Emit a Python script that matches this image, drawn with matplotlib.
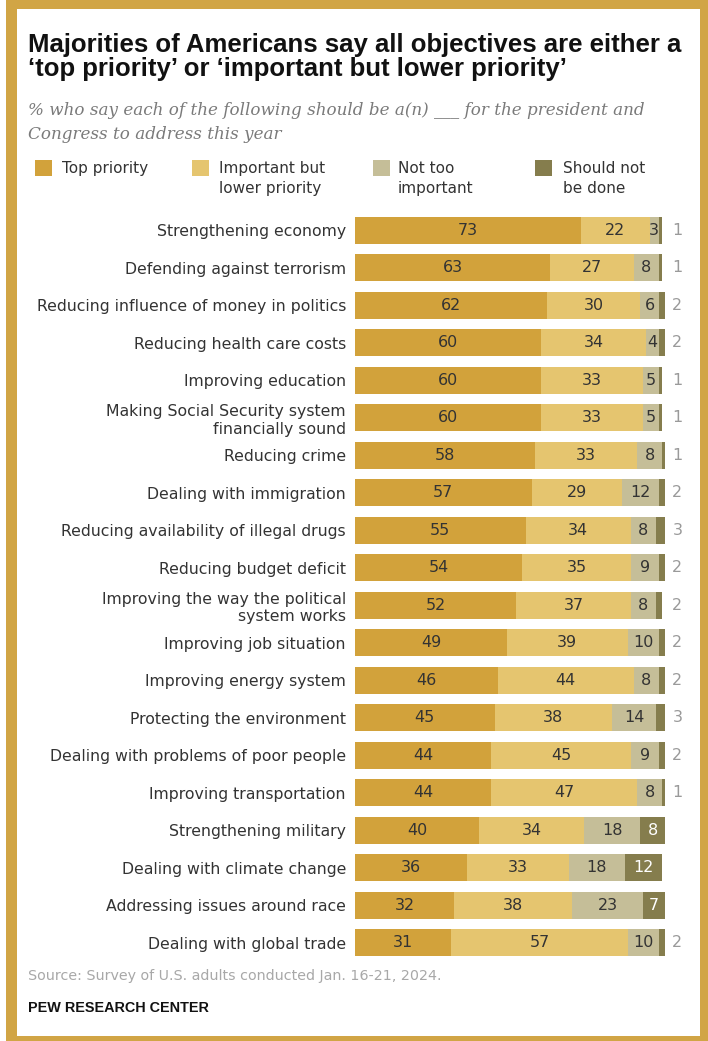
import matplotlib
matplotlib.use('Agg')
import matplotlib.pyplot as plt
from matplotlib.patches import Rectangle
import numpy as np

# data
categories = ['Strengthening economy', 'Defending against terrorism',
              'Reducing influence of money in politics', 'Reducing health care costs',
              'Improving education', 'Making Social Security system\nfinancially sound',
              'Reducing crime', 'Dealing with immigration',
              'Reducing availability of illegal drugs', 'Reducing budget deficit',
              'Improving the way the political\nsystem works', 'Improving job situation',
              'Improving energy system', 'Protecting the environment',
              'Dealing with problems of poor people', 'Improving transportation',
              'Strengthening military', 'Dealing with climate change',
              'Addressing issues around race', 'Dealing with global trade']
top_priority = [73, 63, 62, 60, 60, 60, 58, 57, 55, 54, 52, 49, 46, 45, 44, 44, 40, 36, 32, 31]
important_lower = [22, 27, 30, 34, 33, 33, 33, 29, 34, 35, 37, 39, 44, 38, 45, 47, 34, 33, 38, 57]
not_too_important = [3, 8, 6, 4, 5, 5, 8, 12, 8, 9, 8, 10, 8, 14, 9, 8, 18, 18, 23, 10]
should_not = [1, 1, 2, 2, 1, 1, 1, 2, 3, 2, 2, 2, 2, 3, 2, 1, 8, 12, 7, 2]
series_names = ['Top priority', 'Important but\nlower priority', 'Not too\nimportant', 'Should not\nbe done']

colors = ['#D2A23B', '#E5C56F', '#C5BE98', '#857D4D']
W, H = 708, 1041

fig = plt.figure(figsize=(W / 100, H / 100), dpi=100)

def fx(x):
    return x / W

def fy(y):
    return 1 - y / H

# gold frame (behind everything)
fig.patches.append(Rectangle((fx(6), 0), 1 - fx(6), 1, transform=fig.transFigure,
                             facecolor='#D1A545', edgecolor='none', zorder=-5))
fig.patches.append(Rectangle((fx(17), fy(1036)), fx(700) - fx(17), fy(9) - fy(1036),
                             transform=fig.transFigure, facecolor='white',
                             edgecolor='none', zorder=-4))

# title / subtitle
title_font = ['Liberation Sans Narrow', 'Liberation Sans']
fig.text(fx(28), fy(52), 'Majorities of Americans say all objectives are either a',
         family=title_font, weight='bold', fontsize=18.5, color='#111111', va='baseline')
fig.text(fx(28), fy(76), '\u2018top priority\u2019 or \u2018important but lower priority\u2019',
         family=title_font, weight='bold', fontsize=18.5, color='#111111', va='baseline')
fig.text(fx(28), fy(115), '% who say each of the following should be a(n) ___ for the president and',
         family='DejaVu Serif', style='italic', fontsize=12.1, color='#7a7a7a', va='baseline')
fig.text(fx(28), fy(139), 'Congress to address this year',
         family='DejaVu Serif', style='italic', fontsize=12.1, color='#7a7a7a', va='baseline')

# legend
sq_x = [35, 192, 373, 535]
txt_x = [62, 219, 398, 563]
for i in range(4):
    fig.patches.append(Rectangle((fx(sq_x[i]), fy(176)), 17 / W, 16 / H,
                                 transform=fig.transFigure, facecolor=colors[i],
                                 edgecolor='none'))
    lines = series_names[i].split('\n')
    for j, line in enumerate(lines):
        fig.text(fx(txt_x[i]), fy(173 + 20 * j), line, fontsize=11, color='#333333',
                 va='baseline')

# bars
n = len(categories)
row_top = 230.5 - 18.75
row_bot = 943 + 18.75
ax = fig.add_axes([fx(355), fy(row_bot), fx(665) - fx(355), (row_bot - row_top) / H])
ax.set_zorder(2)
y = np.arange(n)
series = [top_priority, important_lower, not_too_important, should_not]
left = np.zeros(n)
for k, vals in enumerate(series):
    vals = np.array(vals)
    ax.barh(y, vals, left=left, height=0.72, color=colors[k], edgecolor='none')
    for i in range(n):
        cx = left[i] + vals[i] / 2
        if k < 3:
            ax.text(cx, y[i], str(vals[i]), ha='center', va='center',
                    fontsize=11.5, color='#333333')
        elif vals[i] >= 7:
            ax.text(cx, y[i], str(vals[i]), ha='center', va='center',
                    fontsize=11.5, color='white')
        else:
            ax.text(104, y[i], str(vals[i]), ha='center', va='center',
                    fontsize=11.5, color='#9a9a9a', clip_on=False)
    left = left + vals

ax.set_xlim(0, 100)
ax.set_ylim(n - 0.5, -0.5)
ax.set_yticks(y)
ax.set_yticklabels(categories, fontsize=11.35, color='#333333')
ax.tick_params(axis='y', length=0, pad=6.5)
ax.set_xticks([])
for s in ax.spines.values():
    s.set_visible(False)
ax.patch.set_alpha(0)

# footer
fig.text(fx(28), fy(980), 'Source: Survey of U.S. adults conducted Jan. 16-21, 2024.',
         fontsize=10.3, color='#a8a8a8', va='baseline')
fig.text(fx(28), fy(1012), 'PEW RESEARCH CENTER', family='Liberation Sans',
         weight='bold', fontsize=10.4, color='#111111', va='baseline')

fig.savefig('out.png', dpi=100)
